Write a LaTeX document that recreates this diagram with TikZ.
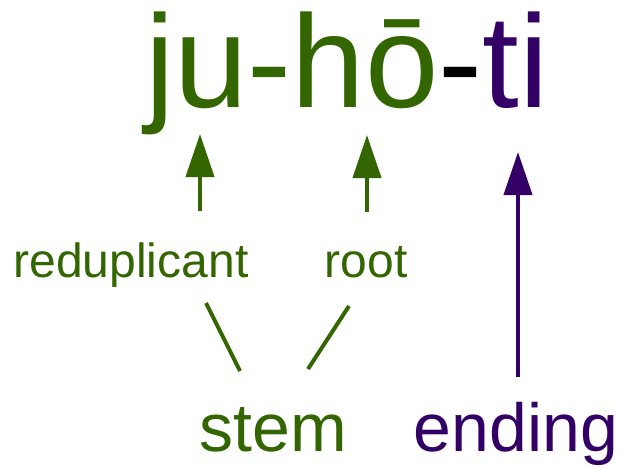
\documentclass[tikz,border=0pt]{standalone}
\usepackage{fontspec}
\setmainfont{Liberation Sans}
\usetikzlibrary{arrows.meta}
\definecolor{stemgreen}{RGB}{51,102,0}
\definecolor{endpurple}{RGB}{51,0,102}
\begin{document}
\begin{tikzpicture}[x=1pt,y=-1pt,
  word/.style={inner sep=0pt,anchor=base},
  title/.style={word,font=\fontsize{132}{132}\selectfont},
  small/.style={word,font=\fontsize{48}{48}\selectfont,text=stemgreen},
  big/.style={word,font=\fontsize{68}{68}\selectfont},
  uparrow/.style={line width=4pt,-{Triangle[length=43pt,width=28pt]}},
  link/.style={line width=4pt,draw=stemgreen}]
  \useasboundingbox (0,0) rectangle (620,467);

  % the segmented word
  \node[title] (word) at (347,107)
    {\textcolor{stemgreen}{ju-hō}\textcolor{black}{-}\textcolor{endpurple}{ti}};

  % morpheme labels
  \node[small] (redup) at (131,277) {reduplicant};
  \node[small] (root)  at (366,277) {root};
  \node[big,text=stemgreen]  (stem)   at (273,451) {stem};
  \node[big,text=endpurple]  (ending) at (516,451) {ending};

  % arrow ends
  \coordinate (redupTop) at (200,211);
  \coordinate (redupTip) at (200,134);
  \coordinate (rootTop)  at (367,212);
  \coordinate (rootTip)  at (367,135);
  \coordinate (endTop)   at (518,377);
  \coordinate (endTip)   at (518,152);

  \draw[uparrow,stemgreen] (redupTop) -- (redupTip);
  \draw[uparrow,stemgreen] (rootTop) -- (rootTip);
  \draw[uparrow,endpurple] (endTop) -- (endTip);

  % stem branches to its two parts
  \coordinate (stemL) at (240,371);
  \coordinate (redupLow) at (206,303);
  \coordinate (stemR) at (308,369);
  \coordinate (rootLow) at (349,306);
  \draw[link] (stemL) -- (redupLow);
  \draw[link] (stemR) -- (rootLow);
\end{tikzpicture}
\end{document}
